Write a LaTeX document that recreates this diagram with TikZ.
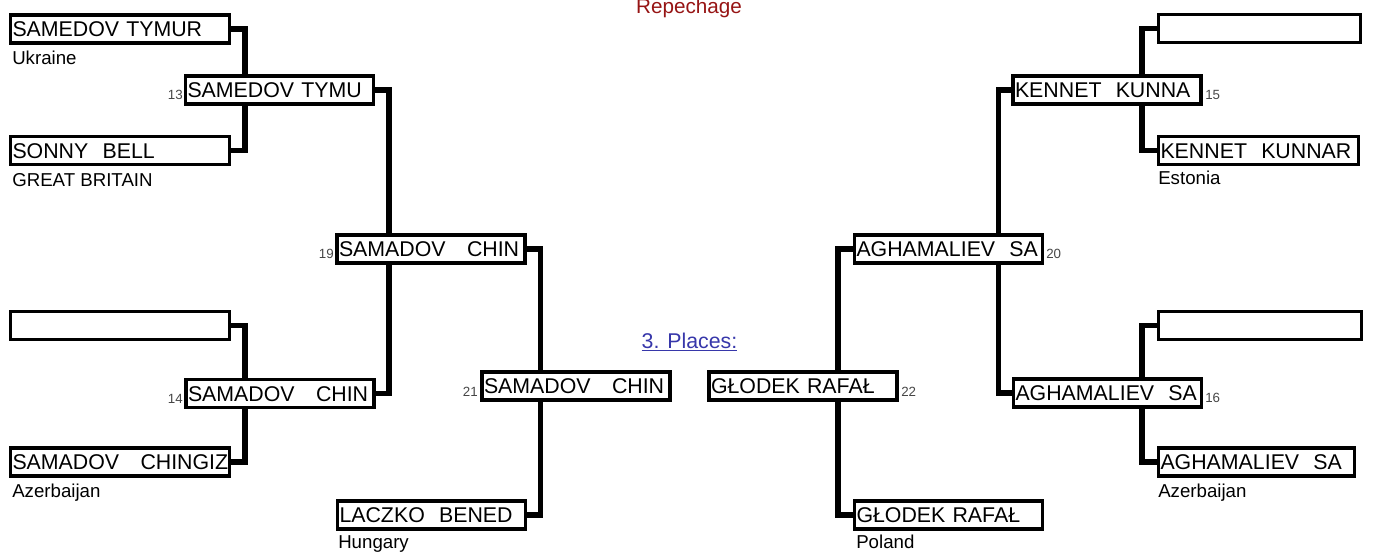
\documentclass[tikz,border=0pt]{standalone}
\usepackage{fontspec}
\setmainfont{Liberation Sans}
\usepackage{tikz}
\usetikzlibrary{backgrounds}
\definecolor{repred}{RGB}{150,20,20}
\definecolor{placeblue}{RGB}{55,55,170}
\definecolor{numgray}{RGB}{70,70,70}
\hyphenpenalty=10000
\exhyphenpenalty=10000

\begin{document}
\begin{tikzpicture}[x=0.75pt, y=-0.75pt,
	slot/.style={draw, fill=white, line width=2.5pt,
		text width=#1*0.75pt-3pt, inner xsep=1.5pt, inner ysep=0pt,
		minimum height=20.8pt, text height=11.5pt, text depth=0pt, align=left,
		font=\fontsize{16}{18}\selectfont},
	slot/.default=188,
	nation/.style={anchor=base west, inner sep=0pt, font=\fontsize{14}{16}\selectfont},
	num/.style={inner sep=0pt, text=numgray, font=\fontsize{10}{12}\selectfont},
	wire/.style={line width=4.1pt, line join=miter}]
	\useasboundingbox (0,0) rectangle (1373,552);

	\node[anchor=base, text=repred, font=\fontsize{15.5}{18}\selectfont] (rep) at (689,14) {Repechage};
	\node[anchor=base, text=placeblue, font=\fontsize{16}{18}\selectfont] (pl) at (689.5,348) {\underline{3. Places:}};

	% left half
	\node[slot=219] (sa1) at (120,29) {SAMEDOV TYMUR};
	\node[slot=219] (sa2) at (120,150.5) {SONNY~~BELL};
	\node[slot=219] (sa3) at (120,325.5) {};
	\node[slot=219] (sa4) at (120,462) {\mbox{SAMADOV~~~CHINGIZ}};
	\node[slot] (m13) at (279.5,90) {SAMEDOV TYMU};
	\node[slot] (m14) at (280,393.5) {SAMADOV~~~CHIN};
	\node[slot] (m19) at (431,249) {SAMADOV~~~CHIN};
	\node[slot] (m21) at (576,386) {SAMADOV~~~CHIN};
	\node[slot] (sb1) at (431.5,515) {LACZKO~~BENED};

	% right half
	\node[slot] (m22) at (803,386) {GŁODEK RAFAŁ};
	\node[slot] (m20) at (948.5,249) {AGHAMALIEV~~SA};
	\node[slot] (sb2) at (948.5,515) {GŁODEK RAFAŁ};
	\node[slot] (m15) at (1107,90) {KENNET~~KUNNA};
	\node[slot] (m16) at (1107.5,393) {AGHAMALIEV~~SA};
	\node[slot=202] (sc1) at (1259.5,28.5) {};
	\node[slot=200] (sc2) at (1258.5,150.5) {KENNET~~KUNNAR};
	\node[slot=203] (sc3) at (1260,325.5) {};
	\node[slot=196] (sc4) at (1256.5,462) {AGHAMALIEV~~SA};

	\node[nation] (na1) at (12,65) {Ukraine};
	\node[nation] (na2) at (12,187) {GREAT BRITAIN};
	\node[nation] (na3) at (12,497) {Azerbaijan};
	\node[nation] (na4) at (338,548) {Hungary};
	\node[nation] (na5) at (856,548) {Poland};
	\node[nation] (na6) at (1158,185) {Estonia};
	\node[nation] (na7) at (1158,497) {Azerbaijan};

	\node[num, anchor=base east] (n13) at (183,100) {13};
	\node[num, anchor=base east] (n14) at (183,403) {14};
	\node[num, anchor=base east] (n19) at (334,258) {19};
	\node[num, anchor=base east] (n21) at (478,396) {21};
	\node[num, anchor=base west] (n22) at (901,396) {22};
	\node[num, anchor=base west] (n20) at (1046,258) {20};
	\node[num, anchor=base west] (n15) at (1205,100) {15};
	\node[num, anchor=base west] (n16) at (1205,402) {16};

	% connectors, behind the boxes
	\begin{scope}[on background layer]
		\draw[wire] (sa1.east) -- ++(14,0) |- (sa2.east);
		\draw[wire] (sa3.east) -- ++(14,0) |- (sa4.east);
		\draw[wire] (m13.east) -- ++(14,0) |- (m14.east);
		\draw[wire] (m19.east) -- ++(14,0) |- (sb1.east);
		\draw[wire] (sc1.west) -- ++(-15,0) |- (sc2.west);
		\draw[wire] (sc3.west) -- ++(-15,0) |- (sc4.west);
		\draw[wire] (m15.west) -- ++(-13,0) |- (m16.west);
		\draw[wire] (m20.west) -- ++(-15,0) |- (sb2.west);
	\end{scope}
\end{tikzpicture}
\end{document}
